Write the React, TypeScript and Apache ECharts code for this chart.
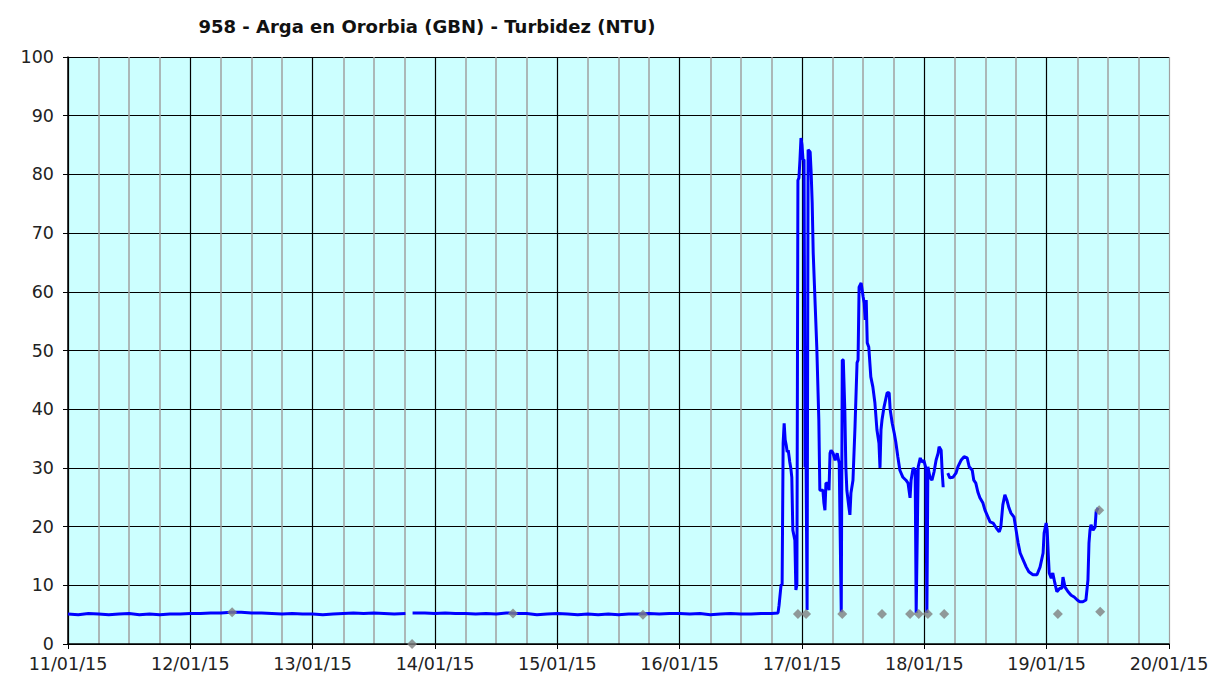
import React, { useEffect, useRef } from "react";
import * as echarts from "echarts";

// Hours since 11/01/15 00:00 and turbidity (NTU)
const hours: (number)[] = [
  0, 2, 4, 6, 8, 10, 12, 14, 16, 18, 20, 22,
  24, 26, 28, 30, 32, 34, 36, 38, 40, 42, 44, 46,
  48, 50, 52, 54, 56, 58, 60, 62, 64, 66.2, 66.6, 67.6,
  70, 72, 74, 76, 78, 80, 82, 84, 86, 88, 90, 92, 94,
  96, 98, 100, 102, 104, 106, 108, 110, 112, 114, 116, 118,
  120, 122, 124, 126, 128, 130, 132, 134, 136, 138, 139.3,
  139.5, 139.9, 140.1, 140.3, 140.5, 140.7, 140.9, 141.1, 141.3, 141.5, 141.6, 141.8,
  142.0, 142.2, 142.6, 142.8, 143.0, 143.2, 143.4, 143.6, 143.8, 144.0, 144.2, 144.4,
  144.6, 144.8, 145.0, 145.2, 145.6, 145.8, 146.0, 146.2, 146.6, 146.9, 147.3, 147.5,
  148.1, 148.3, 148.5, 148.7, 149.1, 149.3, 149.5, 149.7, 150.1, 150.5, 150.9, 151.3,
  151.7, 151.9, 152.1, 152.4, 152.6, 152.8, 153.2, 153.4, 153.6, 154.0, 154.4, 154.8,
  155.0, 155.2, 155.6, 156.0, 156.2, 156.4, 156.6, 156.8, 157.1, 157.5, 157.9, 158.3,
  158.7, 159.1, 159.3, 159.5, 159.7, 160.1, 160.7, 161.1, 161.3, 161.7, 162.1, 162.4,
  162.8, 163.2, 163.8, 164.4, 164.8, 165.2, 165.4, 165.8, 166.2, 166.4, 166.8, 167.2,
  167.5, 167.9, 168.3, 168.5, 168.7, 169.1, 169.5, 169.9, 170.3, 170.7, 170.9, 171.3,
  171.5, 171.7, 172.1, 172.6, 173.0, 173.6, 174.2, 174.6, 175.2, 175.8, 176.4, 176.8,
  177.4, 177.7, 178.1, 178.5, 178.9, 179.5, 179.9, 180.3, 180.9, 181.5, 182.1, 182.7,
  183.0, 183.4, 183.8, 184.2, 184.6, 185.0, 185.6, 186.0, 186.4, 186.8, 187.4, 188.0,
  188.5, 189.3, 190.1, 190.7, 191.3, 191.5, 191.9, 192.1, 192.3, 192.5, 192.9, 193.2,
  193.6, 194.0, 194.6, 195.0, 195.2, 195.6, 196.2, 196.8, 197.4, 198.0, 198.5, 199.1,
  199.7, 200.1, 200.3, 200.5, 200.7, 201.1, 201.5, 201.7, 202.1,
];

const turbidity: (number | null)[] = [
  5.1, 5.0, 5.2, 5.1, 5.0, 5.1, 5.2, 5.0, 5.1, 5.0, 5.1, 5.1,
  5.2, 5.2, 5.3, 5.3, 5.4, 5.4, 5.3, 5.3, 5.2, 5.1, 5.2, 5.1,
  5.1, 5.0, 5.1, 5.2, 5.3, 5.2, 5.3, 5.2, 5.1, 5.2, null, 5.3,
  5.3, 5.2, 5.3, 5.2, 5.2, 5.1, 5.2, 5.1, 5.3, 5.2, 5.2, 5.0, 5.1,
  5.2, 5.1, 5.0, 5.1, 5.0, 5.1, 5.0, 5.1, 5.1, 5.2, 5.1, 5.2,
  5.2, 5.1, 5.2, 5.0, 5.1, 5.2, 5.1, 5.1, 5.2, 5.2, 5.3,
  6.6, 10.1, 10.1, 34.2, 37.6, 34.8, 33.9, 32.7, 33.0, 31.7, 31.0, 30.0,
  28.4, 19.4, 17.7, 9.2, 10.1, 79.0, 79.4, 82.5, 86.2, 85.0, 82.5, 82.5,
  30.2, 30.2, 5.8, 84.2, 83.8, 80.2, 75.1, 66.6, 57.4, 50.6, 38.2, 26.2,
  26.2, 24.0, 22.8, 27.4, 27.4, 26.2, 32.5, 33.0, 32.5, 31.3, 32.5, 30.8,
  5.4, 48.4, 48.4, 39.9, 30.2, 26.2, 23.3, 22.0, 25.7, 27.9, 37.0, 47.9,
  48.4, 60.8, 61.5, 59.1, 58.1, 55.2, 58.6, 51.3, 50.6, 45.5, 43.8, 41.1,
  36.5, 34.2, 30.0, 36.5, 38.2, 40.4, 42.8, 42.8, 39.9, 37.6, 35.9, 34.4,
  31.9, 29.6, 28.4, 27.9, 27.4, 24.9, 27.9, 30.0, 29.6, 5.3, 30.2, 31.7,
  31.0, 31.3, 30.0, 5.3, 30.2, 28.4, 27.9, 29.3, 31.3, 32.5, 33.6, 33.0,
  29.3, 26.7, null, 29.1, 28.3, 28.4, 29.1, 30.2, 31.3, 31.9, 31.7, 30.2,
  29.6, 27.9, 27.4, 25.9, 24.9, 24.0, 22.8, 22.0, 20.8, 20.6, 19.8, 19.1,
  19.9, 23.7, 25.4, 24.5, 23.2, 22.3, 21.6, 19.4, 17.2, 15.5, 14.3, 13.1,
  12.3, 11.8, 11.8, 13.1, 15.5, 18.9, 20.6, 19.4, 15.5, 12.1, 11.2, 12.1,
  10.4, 8.9, 9.5, 9.5, 11.4, 9.7, 8.9, 8.3, 8.0, 7.5, 7.2, 7.2,
  7.5, 10.9, 17.2, 19.4, 20.3, 19.4, 19.9, 22.5, 23.2,
];

// Gray flagged points
const flagHours: number[] = [32.2, 67.5, 87.3, 112.8, 143.2, 144.8, 151.9, 159.7, 165.2, 166.9, 168.7, 171.9, 194.2, 202.5, 202.3];
const flagValues: number[] = [5.4, 0, 5.2, 5.0, 5.1, 5.1, 5.1, 5.1, 5.1, 5.1, 5.1, 5.1, 5.1, 5.5, 22.8];

const dayLabels: string[] = ["11/01/15", "12/01/15", "13/01/15", "14/01/15", "15/01/15", "16/01/15", "17/01/15", "18/01/15", "19/01/15", "20/01/15"];
const yTicks = { min: 0, max: 100, interval: 10 };

const FONT = "DejaVu Sans";

export default function App() {
  const ref = useRef<HTMLDivElement>(null);
  useEffect(() => {
    if (!ref.current) return;
    const chart = echarts.init(ref.current, undefined, { renderer: "svg" });
    const lineData = hours.map((h, i) => [h, turbidity[i]]);
    const flagData = flagHours.map((h, i) => [h, flagValues[i]]);
    const splitColors = dayLabels.map((_, i) => (i === dayLabels.length - 1 ? "#a0a0a0" : "#000000"));
    chart.setOption({
      animation: false,
      backgroundColor: "#ffffff",
      title: {
        text: "958 - Arga en Ororbia (GBN) - Turbidez (NTU)",
        left: 422,
        textAlign: "center",
        top: 12,
        textStyle: { fontFamily: FONT, fontSize: 18, fontWeight: "bold", color: "#111" },
      },
      grid: {
        left: 68,
        right: 48,
        top: 57,
        bottom: 35,
        show: true,
        backgroundColor: "#ccffff",
        borderWidth: 0,
      },
      xAxis: {
        type: "value",
        min: 0,
        max: 216,
        interval: 24,
        axisLine: { show: true, onZero: false, lineStyle: { color: "#000", width: 1.5 } },
        axisTick: { show: true, length: 5, lineStyle: { color: "#000" } },
        axisLabel: {
          fontFamily: FONT,
          fontSize: 17.5,
          color: "#222",
          margin: 11,
          formatter: (v: number) => dayLabels[Math.round(v / 24)] ?? "",
        },
        splitLine: { show: true, lineStyle: { color: splitColors, width: 1.2 } },
        minorTick: { show: false, splitNumber: 4 },
        minorSplitLine: { show: true, lineStyle: { color: "#a0a0a0", width: 1.5 } },
      },
      yAxis: {
        type: "value",
        min: yTicks.min,
        max: yTicks.max,
        interval: yTicks.interval,
        axisLine: { show: true, lineStyle: { color: "#000", width: 1.5 } },
        axisTick: { show: true, length: 5, lineStyle: { color: "#000" } },
        axisLabel: { fontFamily: FONT, fontSize: 17.5, color: "#222", margin: 14 },
        splitLine: { show: true, lineStyle: { color: "#000", width: 1.2 } },
      },
      series: [
        {
          type: "line",
          data: lineData,
          showSymbol: false,
          connectNulls: false,
          lineStyle: { color: "#0000ff", width: 3 },
          z: 3,
        },
        {
          type: "scatter",
          data: flagData,
          symbol: "diamond",
          symbolSize: 10,
          itemStyle: { color: "#808080" },
          z: 4,
        },
      ],
    });
    return () => chart.dispose();
  }, []);
  return <div ref={ref} style={{ width: 1217, height: 679, position: "absolute", left: 0, top: 0 }} />;
}
